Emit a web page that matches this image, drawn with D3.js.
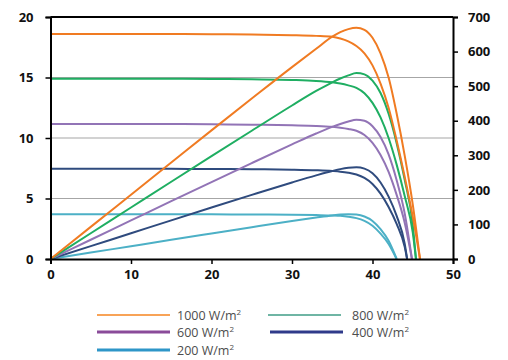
<!DOCTYPE html>
<html>
<meta charset="utf-8">
<title>PV curves</title>
<style>
  html, body { margin: 0; padding: 0; background: #fff; }
  .tick text { font-family: "Open Sans", "DejaVu Sans", sans-serif; font-weight: bold; font-size: 13px; fill: #111; }
  .legend text { font-family: "Open Sans", "DejaVu Sans", sans-serif; font-size: 12.5px; fill: #4d4d4d; }
</style>
<body>
<div id="chart"></div>
<script src="https://d3js.org/d3.v7.min.js"></script>
<script>
// irradiance levels (W/m2)
var levels = ["1000", "800", "600", "400", "200"];

// I-V points [voltage, current]
var iv1000 = [[0,18.6],[5,18.6],[10,18.6],[15,18.6],[20,18.58],[25,18.55],[30,18.5],[33,18.44],[35,18.36],[36,18.22],[37,17.98],[38,17.6],[39,17.0],[40,16.0],[41,14.5],[42,12.5],[43,9.8],[44,6.8],[45,3.5],[45.9,0]];
var iv800  = [[0,14.9],[5,14.9],[10,14.9],[15,14.9],[20,14.88],[25,14.85],[30,14.8],[33,14.72],[35,14.6],[36,14.5],[37,14.35],[38,14.15],[39,13.7],[40,12.9],[41,11.7],[42,10.0],[43,7.8],[44,5.2],[45,2.2],[45.4,0]];
var iv600  = [[0,11.15],[5,11.15],[10,11.15],[15,11.15],[20,11.13],[25,11.1],[30,11.05],[33,11.0],[35,10.92],[36,10.85],[37,10.75],[38,10.6],[39,10.25],[40,9.6],[41,8.6],[42,7.2],[43,5.3],[44,3.0],[44.9,0]];
var iv400  = [[0,7.45],[5,7.45],[10,7.45],[15,7.45],[20,7.44],[25,7.42],[30,7.38],[33,7.33],[35,7.27],[36,7.22],[37,7.13],[38,6.98],[39,6.7],[40,6.2],[41,5.4],[42,4.3],[43,2.9],[44,1.0],[44.3,0]];
var iv200  = [[0,3.7],[5,3.7],[10,3.7],[15,3.7],[20,3.69],[25,3.68],[30,3.66],[33,3.63],[35,3.6],[36,3.57],[37,3.5],[38,3.38],[39,3.15],[40,2.75],[41,2.1],[42,1.25],[43,0]];

// P-V points [voltage, power]
var pv1000 = [[0,0],[5,93],[10,186],[15,279],[20,372],[25,464],[30,555],[33,608],[35,643],[36,656],[37,665],[38,669],[39,663],[40,640],[41,595],[42,525],[43,421],[44,299],[45,158],[45.9,0]];
var pv800  = [[0,0],[5,74.5],[10,149],[15,223.5],[20,297.6],[25,371],[30,444],[33,486],[35,511],[36,522],[37,531],[38,538],[39,534],[40,516],[41,480],[42,420],[43,335],[44,229],[45,99],[45.4,0]];
var pv600  = [[0,0],[5,55.75],[10,111.5],[15,167.25],[20,222.6],[25,277.5],[30,331.5],[33,363],[35,382.2],[36,390.6],[37,397.8],[38,402.8],[39,399.8],[40,384],[41,352.6],[42,302.4],[43,227.9],[44,132],[44.9,0]];
var pv400  = [[0,0],[5,37.3],[10,74.5],[15,111.8],[20,148.8],[25,185.5],[30,221.4],[33,241.9],[35,254.5],[36,260],[37,263.8],[38,265.2],[39,261.3],[40,248],[41,221.4],[42,180.6],[43,124.7],[44,44],[44.3,0]];
var pv200  = [[0,0],[5,18.5],[10,37],[15,55.5],[20,73.8],[25,92],[30,109.8],[33,119.8],[35,126],[36,128.5],[37,129.5],[38,128.4],[39,122.9],[40,110],[41,86.1],[42,52.5],[43,0]];

var xTicks = [0, 10, 20, 30, 40, 50];
var yLeftTicks = [0, 5, 10, 15, 20];
var yRightTicks = [0, 100, 200, 300, 400, 500, 600, 700];

var colors = ["#f07b22", "#1fae62", "#9274b6", "#2f4b7e", "#4cb0c6"];
var legendColors = ["#f6851f", "#3f9c86", "#8a4b99", "#2f3a8a", "#2e96c8"];
var legendWidths = [1.6, 1.6, 2.8, 2.8, 2.8];

var ivData = [iv1000, iv800, iv600, iv400, iv200];
var pvData = [pv1000, pv800, pv600, pv400, pv200];

var width = 508, height = 360;
var margin = {top: 17, right: 55, bottom: 101, left: 50.5};

var svg = d3.select("#chart").append("svg")
    .attr("width", width)
    .attr("height", height);

var x = d3.scaleLinear().domain([0, 50]).range([margin.left, width - margin.right]);
var yI = d3.scaleLinear().domain([0, 20]).range([height - margin.bottom, margin.top]);
var yP = d3.scaleLinear().domain([0, 700]).range([height - margin.bottom, margin.top]);

// gridlines
svg.append("g").selectAll("line")
    .data([5, 10, 15])
    .enter().append("line")
    .attr("x1", x(0)).attr("x2", x(50))
    .attr("y1", function(d) { return yI(d); })
    .attr("y2", function(d) { return yI(d); })
    .attr("stroke", "#a6a6a6")
    .attr("stroke-width", 1.2);

// curves
var ivLine = d3.line().curve(d3.curveMonotoneX)
    .x(function(d) { return x(d[0]); })
    .y(function(d) { return yI(d[1]); });
var pvLine = d3.line().curve(d3.curveMonotoneX)
    .x(function(d) { return x(d[0]); })
    .y(function(d) { return yP(d[1]); });

var curves = svg.append("g").attr("fill", "none").attr("stroke-width", 2);
for (var i = levels.length - 1; i >= 0; i--) {
    curves.append("path").attr("d", ivLine(ivData[i])).attr("stroke", colors[i]);
    curves.append("path").attr("d", pvLine(pvData[i])).attr("stroke", colors[i]);
}

// top border
svg.append("line")
    .attr("x1", x(0)).attr("x2", x(50))
    .attr("y1", margin.top).attr("y2", margin.top)
    .attr("stroke", "#000").attr("stroke-width", 2);

function styleAxis(g) {
    g.select(".domain").attr("stroke", "#000").attr("stroke-width", 2);
    g.selectAll(".tick line").attr("stroke", "#000").attr("stroke-width", 1.5);
}

svg.append("g")
    .attr("transform", "translate(0," + yI(0) + ")")
    .call(d3.axisBottom(x).tickValues(xTicks).tickSize(5).tickSizeOuter(5).tickPadding(6))
    .call(styleAxis);

svg.append("g")
    .attr("transform", "translate(" + x(0) + ",0)")
    .call(d3.axisLeft(yI).tickValues(yLeftTicks).tickSize(5).tickSizeOuter(5).tickPadding(12))
    .call(styleAxis);

svg.append("g")
    .attr("transform", "translate(" + x(50) + ",0)")
    .call(d3.axisRight(yP).tickValues(yRightTicks).tickSize(5).tickSizeOuter(5).tickPadding(10))
    .call(styleAxis);

// legend
var legendPos = [[97, 315], [268, 315], [97, 332], [270, 332], [97, 350]];
var legendTextX = [177, 352, 177, 352, 177];
var legend = svg.append("g").attr("class", "legend");
levels.forEach(function(lv, i) {
    var p = legendPos[i];
    legend.append("line")
        .attr("x1", p[0]).attr("x2", p[0] + 73)
        .attr("y1", p[1]).attr("y2", p[1])
        .attr("stroke", legendColors[i])
        .attr("stroke-width", legendWidths[i]);
    var t = legend.append("text")
        .attr("x", legendTextX[i])
        .attr("y", p[1] + 4.5);
    t.append("tspan").text(lv + " W/m");
    t.append("tspan").attr("dy", -5).attr("font-size", "8px").text("2");
});
</script>
</body>
</html>
